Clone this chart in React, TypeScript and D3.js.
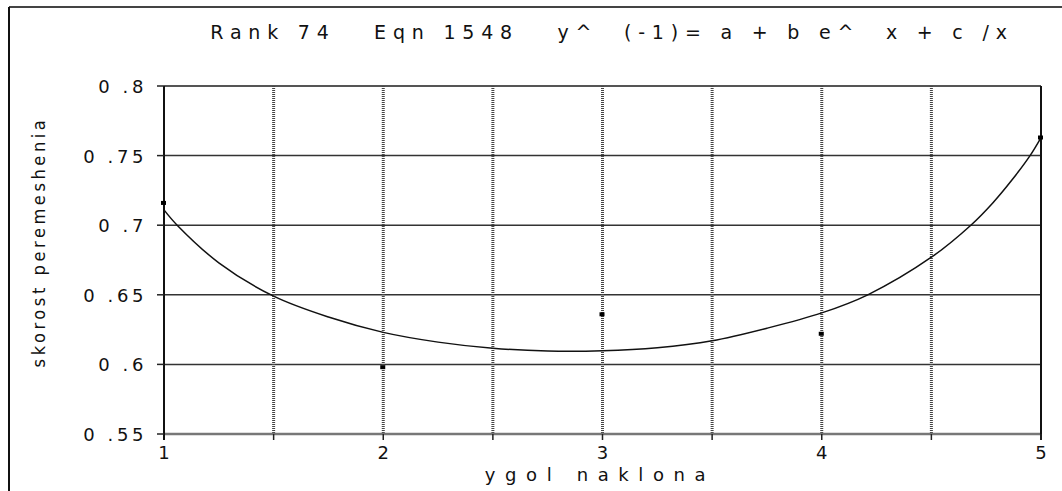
import React from "react";
import * as d3 from "d3";

const dataX = [1, 2, 3, 4, 5];
const dataY = [0.716, 0.598, 0.636, 0.622, 0.763];

const curveX = [1, 1.06, 1.25, 1.5, 1.75, 2, 2.25, 2.5, 2.75, 3, 3.25, 3.5, 3.75, 4, 4.21, 4.5, 4.68, 4.78, 4.87, 4.95, 5];
const curveY = [0.711, 0.7, 0.673, 0.649, 0.634, 0.623, 0.616, 0.6116, 0.6096, 0.6098, 0.612, 0.617, 0.626, 0.637, 0.65, 0.677, 0.7, 0.716, 0.733, 0.75, 0.763];

const yTicks = [0.55, 0.6, 0.65, 0.7, 0.75, 0.8];
const yTickLabels = ["0 .55", "0 .6", "0 .65", "0 .7", "0 .75", "0 .8"];
const xTicks = [1, 2, 3, 4, 5];
const xGrid = [1.5, 2, 2.5, 3, 3.5, 4, 4.5];
const xMinor = [1.5, 2, 2.5, 3, 3.5, 4, 4.5, 5];

const title = "Rank 74   Eqn 1548   y^  (-1)= a + b e^  x + c /x";
const xTitle = "ygol naklona";
const yTitle = "skorost peremeshenia";

export default function App() {
  const W = 1062, H = 491;
  const x = d3.scaleLinear().domain([1, 5]).range([164, 1041]);
  const y = d3.scaleLinear().domain([0.55, 0.8]).range([434, 86]);
  const line = d3.line<number>().x((_, i) => x(curveX[i])).y((d) => y(d)).curve(d3.curveCatmullRom);
  const font = "'DejaVu Sans', Verdana, sans-serif";
  return (
    <svg width={W} height={H} style={{ position: "absolute", left: 0, top: 0, background: "#fff" }}>
      <line x1={9} y1={7} x2={W} y2={7} stroke="#444" strokeWidth={2} />
      <line x1={9} y1={7} x2={9} y2={H} stroke="#111" strokeWidth={2} />
      <text x={612} y={39} textAnchor="middle" fontFamily={font} fontSize={19} letterSpacing={6.8} fill="#111" style={{ whiteSpace: "pre" }}>
        {title}
      </text>
      {yTicks.slice(1, 5).map((t) => (
        <line key={"h" + t} x1={x(1)} x2={x(5)} y1={y(t)} y2={y(t)} stroke="#333" strokeWidth={1.5} />
      ))}
      <line x1={x(1)} x2={x(5)} y1={y(0.8)} y2={y(0.8)} stroke="#555" strokeWidth={2} />
      {xGrid.map((t) => (
        <line key={"v" + t} x1={x(t)} x2={x(t)} y1={y(0.8)} y2={y(0.55)} stroke="#444" strokeWidth={3} strokeDasharray="1 1" />
      ))}
      <line x1={x(1)} x2={x(5)} y1={y(0.55)} y2={y(0.55)} stroke="#777" strokeWidth={2.5} />
      <line x1={x(1)} x2={x(1)} y1={y(0.8)} y2={y(0.55) + 6} stroke="#111" strokeWidth={2} />
      <line x1={x(5)} x2={x(5)} y1={y(0.8)} y2={y(0.55) + 6} stroke="#111" strokeWidth={2} />
      {yTicks.map((t) => (
        <line key={"yt" + t} x1={x(1) - 7} x2={x(1)} y1={y(t)} y2={y(t)} stroke="#222" strokeWidth={1.5} />
      ))}
      {xMinor.map((t) => (
        <line key={"xt" + t} x1={x(t)} x2={x(t)} y1={y(0.55)} y2={y(0.55) + 6} stroke="#222" strokeWidth={1.5} />
      ))}
      {yTicks.map((t, i) => (
        <text key={"yl" + t} x={147} y={y(t) + 7} textAnchor="end" fontFamily={font} fontSize={18} letterSpacing={3.6} fill="#111" style={{ whiteSpace: "pre" }}>
          {yTickLabels[i]}
        </text>
      ))}
      {xTicks.map((t) => (
        <text key={"xl" + t} x={x(t)} y={459} textAnchor="middle" fontFamily={font} fontSize={18} fill="#111">
          {t}
        </text>
      ))}
      <text x={600} y={481} textAnchor="middle" fontFamily={font} fontSize={18} letterSpacing={9.6} fill="#111">
        {xTitle}
      </text>
      <text transform={`translate(45,242) rotate(-90)`} textAnchor="middle" fontFamily="'DejaVu Sans Condensed', 'Liberation Sans Narrow', sans-serif" fontSize={18} letterSpacing={3.6} fill="#111">
        {yTitle}
      </text>
      <path d={line(curveY) || ""} fill="none" stroke="#111" strokeWidth={1.5} />
      {dataX.map((d, i) => (
        <rect key={"p" + i} x={x(d) - 3} y={y(dataY[i]) - 2} width={5} height={4} fill="#000" />
      ))}
    </svg>
  );
}
